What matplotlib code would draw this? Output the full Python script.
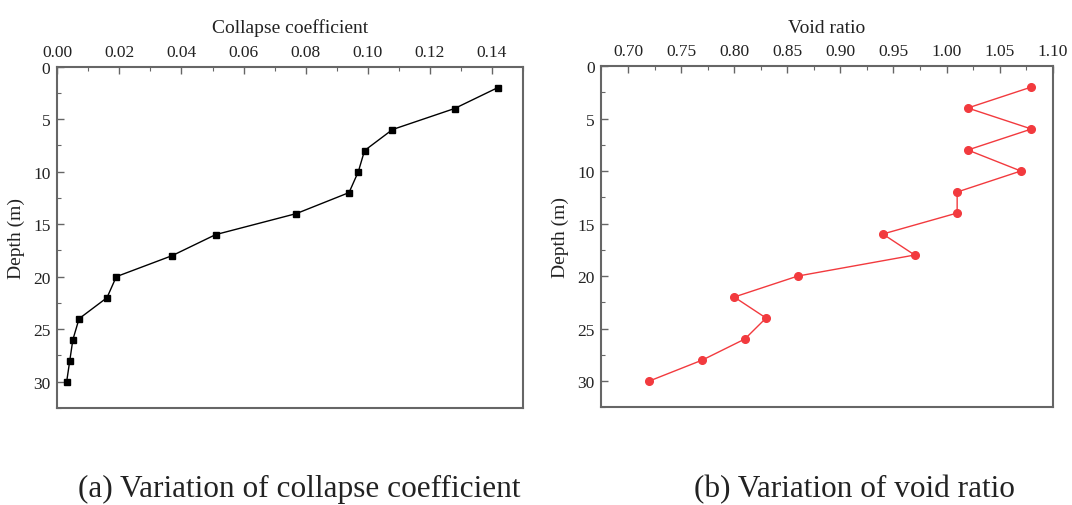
import numpy as np
import matplotlib
matplotlib.use("Agg")
import matplotlib.pyplot as plt
from matplotlib.ticker import MultipleLocator

# Datos
profundidad = [2, 4, 6, 8, 10, 12, 14, 16, 18, 20, 22, 24, 26, 28, 30]
coef_colapso = [0.142, 0.128, 0.108, 0.099, 0.097, 0.094, 0.077, 0.051,
                0.037, 0.019, 0.016, 0.007, 0.005, 0.004, 0.003]
relacion_vacios = [1.08, 1.02, 1.08, 1.02, 1.07, 1.01, 1.01, 0.94,
                   0.97, 0.86, 0.80, 0.83, 0.81, 0.77, 0.72]

titulos = ["Collapse coefficient", "Void ratio"]
leyendas = ["(a) Variation of collapse coefficient", "(b) Variation of void ratio"]

plt.rcParams['font.family'] = ['Liberation Serif', 'DejaVu Serif']

fig = plt.figure(figsize=(10.72, 5.06), dpi=100)
ax1 = fig.add_axes([0.0535, 0.1917, 0.4342, 0.6749])
ax2 = fig.add_axes([0.5611, 0.1931, 0.4209, 0.6745])

gris = '#666666'
texto = '#222222'


def formato(ax, titulo, xlim, mayor, menor):
    ax.set_xlim(*xlim)
    ax.set_ylim(32.5, 0)
    ax.xaxis.set_major_locator(MultipleLocator(mayor))
    ax.xaxis.set_minor_locator(MultipleLocator(menor))
    ax.yaxis.set_major_locator(MultipleLocator(5))
    ax.yaxis.set_minor_locator(MultipleLocator(2.5))
    ax.xaxis.set_major_formatter(plt.FormatStrFormatter('%.2f'))
    ax.xaxis.tick_top()
    ax.xaxis.set_label_position('top')
    ax.tick_params(axis='both', which='both', direction='in', colors=gris,
                   labelcolor=texto, labelsize=12.5)
    ax.tick_params(axis='both', which='major', length=5, width=1, pad=5)
    ax.tick_params(axis='both', which='minor', length=3, width=0.8)
    ax.tick_params(axis='x', which='both', bottom=False, top=True)
    ax.tick_params(axis='y', which='both', left=True, right=False)
    for s in ax.spines.values():
        s.set_color(gris)
        s.set_linewidth(1.5)
    ax.set_xlabel(titulo, fontsize=14, color=texto, labelpad=8)
    ax.set_ylabel('Depth (m)', fontsize=14, color=texto, labelpad=6)


ax1.plot(coef_colapso, profundidad, color='black', lw=1.0, marker='s',
         markersize=5, clip_on=False)
formato(ax1, titulos[0], (0, 0.15), 0.02, 0.01)

ax2.plot(relacion_vacios, profundidad, color='#f23a3e', lw=1.0, marker='o',
         markersize=5.5, clip_on=False)
formato(ax2, titulos[1], (0.675, 1.10), 0.05, 0.025)

fig.text(0.279, 0.018, leyendas[0], fontsize=22.5, color=texto,
         ha='center', va='baseline')
fig.text(0.797, 0.018, leyendas[1], fontsize=22.5, color=texto,
         ha='center', va='baseline')

fig.savefig('out.png', dpi=100, facecolor='white')
